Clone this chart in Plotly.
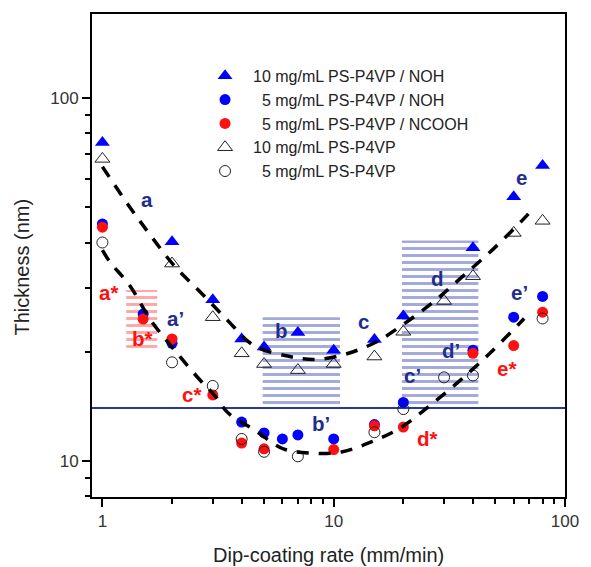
import math
import plotly.graph_objects as go

# ---------------- data ----------------
x_tri_blue = [1, 2, 3, 4, 5, 7, 10, 15, 20, 40, 60, 80]
y_tri_blue = [75.4, 40.2, 27.8, 21.7, 20.6, 22.6, 20.2, 21.6, 25.1, 38.7, 53.5, 65.2]

x_circ_blue = [1, 1.5, 2, 4, 5, 6, 7, 10, 15, 20, 40, 60, 80]
y_circ_blue = [45.0, 25.4, 21.1, 12.8, 11.95, 11.5, 11.8, 11.5, 12.6, 14.5, 20.2, 24.9, 28.4]

x_circ_red = [1, 1.5, 2, 3, 4, 5, 10, 15, 20, 40, 60, 80]
y_circ_red = [44.1, 24.6, 21.7, 15.2, 11.2, 10.8, 10.75, 12.5, 12.4, 19.8, 20.8, 25.7]

x_tri_open = [1, 2, 3, 4, 5, 7, 10, 15, 20, 30, 40, 60, 80]
y_tri_open = [68.0, 35.0, 24.9, 19.8, 18.5, 17.8, 18.5, 19.4, 22.7, 27.6, 32.3, 42.5, 45.9]

x_circ_open = [1, 2, 3, 4, 5, 7, 15, 20, 30, 40, 80]
y_circ_open = [40.0, 18.7, 16.1, 11.5, 10.6, 10.3, 12.0, 13.9, 17.0, 17.2, 24.7]

# dashed guide curves
x_fit_upper = [1, 1.31, 1.59, 2.03, 2.68, 3.48, 4.52, 6.46, 8.4, 11.25, 15.1, 20.2, 27.1, 35.8, 48.8, 65.5, 70]
y_fit_upper = [64.7, 50.2, 42.4, 34.7, 29.0, 24.4, 20.8, 19.4, 19.05, 19.7, 21.2, 23.9, 27.5, 32.1, 38.3, 46.1, 48.2]
x_fit_lower = [1, 1.076, 1.31, 1.62, 2.0, 2.6, 3.1, 3.48, 4.52, 6.06, 8.13, 10.9, 14.6, 19.3, 26.0, 35.3, 47.3, 63.4, 66.6]
y_fit_lower = [38.1, 35.4, 30.5, 24.4, 20.6, 16.9, 15.0, 13.6, 12.2, 10.8, 10.5, 10.6, 11.3, 12.3, 14.2, 16.7, 19.8, 23.9, 24.7]

# hatched regions: (x0, x1, y0, y1)
region_red = (1.267, 1.726, 20.2, 29.6)
regions_blue = [(4.93, 10.65, 14.25, 24.9), (19.72, 42.2, 14.25, 40.5)]

# horizontal reference level
y_ref = 14.0

# labels: text, x, y, colour key
label_text = ["a", "a\u2019", "a*", "b*", "b", "c*", "b\u2019", "d*", "c", "c\u2019", "d", "d\u2019", "e*", "e\u2019", "e"]
label_x = [1.556, 2.07, 1.06, 1.49, 5.96, 2.43, 8.81, 25.4, 13.46, 21.96, 28.0, 32.0, 55.6, 63.4, 65.0]
label_y = [52.7, 24.7, 29.1, 21.8, 22.9, 15.2, 12.7, 11.5, 24.2, 17.2, 31.9, 20.2, 18.0, 29.1, 60.5]
label_col = ["b", "b", "r", "r", "b", "r", "b", "r", "b", "b", "b", "b", "r", "b", "b"]

legend_names = ["10 mg/mL PS-P4VP / NOH", "5 mg/mL PS-P4VP / NOH", "5 mg/mL PS-P4VP / NCOOH",
                "10 mg/mL PS-P4VP", "5 mg/mL PS-P4VP"]

# ---------------- style ----------------
FONT = "Arial, Liberation Sans, sans-serif"
NAVY = "#1f2d8f"
RED = "#ff1010"
BLUE = "#0000ff"

fig = go.Figure()

def rect_trace(r, fg):
    x0, x1, y0, y1 = r
    return go.Scatter(x=[x0, x1, x1, x0, x0], y=[y0, y0, y1, y1, y0], mode="lines",
                      fill="toself", fillcolor="rgba(255,255,255,0)",
                      fillpattern=dict(shape="-", fgcolor=fg, size=7, solidity=0.42),
                      line=dict(width=0), showlegend=False, hoverinfo="skip")

for r in regions_blue:
    fig.add_trace(rect_trace(r, "#4551b4"))
fig.add_trace(rect_trace(region_red, "#ff5050"))

# reference line
fig.add_trace(go.Scatter(x=[0.5, 200], y=[y_ref, y_ref], mode="lines",
                         line=dict(color="#263a9c", width=2), showlegend=False, hoverinfo="skip"))

def sp(name):
    pre = "\u2002" if name.startswith("10") else "\u2002\u2007"
    return pre + name

fig.add_trace(go.Scatter(x=x_tri_blue, y=y_tri_blue, mode="markers", name=sp(legend_names[0]),
                         marker=dict(symbol="triangle-up", size=13, color=BLUE, line=dict(width=0))))
fig.add_trace(go.Scatter(x=x_circ_blue, y=y_circ_blue, mode="markers", name=sp(legend_names[1]),
                         marker=dict(symbol="circle", size=11, color=BLUE, line=dict(width=0))))
fig.add_trace(go.Scatter(x=x_circ_red, y=y_circ_red, mode="markers", name=sp(legend_names[2]),
                         marker=dict(symbol="circle", size=11, color=RED, line=dict(width=0))))
fig.add_trace(go.Scatter(x=x_tri_open, y=y_tri_open, mode="markers", name=sp(legend_names[3]),
                         marker=dict(symbol="triangle-up-open", size=13, color="#222222",
                                     line=dict(width=1, color="#222222"))))
fig.add_trace(go.Scatter(x=x_circ_open, y=y_circ_open, mode="markers", name=sp(legend_names[4]),
                         marker=dict(symbol="circle-open", size=11, color="#222222",
                                     line=dict(width=1, color="#222222"))))

for xs, ys in [(x_fit_upper, y_fit_upper), (x_fit_lower, y_fit_lower)]:
    fig.add_trace(go.Scatter(x=xs, y=ys, mode="lines", line=dict(color="black", width=3.5, dash="12px,10px"),
                             line_shape="spline", showlegend=False, hoverinfo="skip"))

for t, xv, yv, c in zip(label_text, label_x, label_y, label_col):
    fig.add_annotation(x=math.log10(xv), y=math.log10(yv), text="<b>%s</b>" % t, showarrow=False,
                       xanchor="center", yanchor="middle",
                       font=dict(family=FONT, size=20.5, color=NAVY if c == "b" else RED))

# axis titles
fig.add_annotation(xref="paper", yref="paper", x=0.5, y=0, yshift=-58, xanchor="center", yanchor="middle",
                   text="Dip-coating rate (mm/min)",
                   showarrow=False, font=dict(family=FONT, size=20, color="#222222"))
fig.add_annotation(xref="paper", yref="paper", x=0, xshift=-70, y=0.475, xanchor="center", yanchor="middle",
                   text="Thickness (nm)",
                   textangle=-90, showarrow=False, font=dict(family=FONT, size=20, color="#222222"))

x_minor = [2, 3, 4, 5, 6, 7, 8, 9, 20, 30, 40, 50, 60, 70, 80, 90]
y_minor = [8, 9, 20, 30, 40, 50, 60, 70, 80, 90]

fig.update_xaxes(type="log", range=[-0.045, 2.0], showgrid=False, zeroline=False,
                 showline=True, linecolor="black", linewidth=2, mirror=True,
                 ticks="outside", ticklen=8, tickwidth=1.5, tickcolor="black",
                 tickvals=[1, 10, 100], ticktext=["1", "10", "100"],
                 tickfont=dict(family=FONT, size=17, color="#333333"),
                 minor=dict(ticks="outside", ticklen=5, tickwidth=1.5, tickcolor="black", tickvals=x_minor, showgrid=False))
fig.update_yaxes(type="log", range=[0.9007, 2.2318], showgrid=False, zeroline=False,
                 showline=True, linecolor="black", linewidth=2, mirror=True,
                 ticks="outside", ticklen=8, tickwidth=1.5, tickcolor="black",
                 tickvals=[10, 100], ticktext=["10", "100"],
                 tickfont=dict(family=FONT, size=17, color="#333333"),
                 minor=dict(ticks="outside", ticklen=5, tickwidth=1.5, tickcolor="black", tickvals=y_minor, showgrid=False))

fig.update_layout(width=591, height=567, margin=dict(l=92, r=18, t=14, b=70),
                  paper_bgcolor="white", plot_bgcolor="white",
                  legend=dict(x=0.239, y=0.907, xanchor="left", yanchor="top", bgcolor="rgba(0,0,0,0)",
                              font=dict(family=FONT, size=16, color="#222222"), tracegroupgap=0,
                              itemsizing="trace"))

fig.write_html("out.html")
